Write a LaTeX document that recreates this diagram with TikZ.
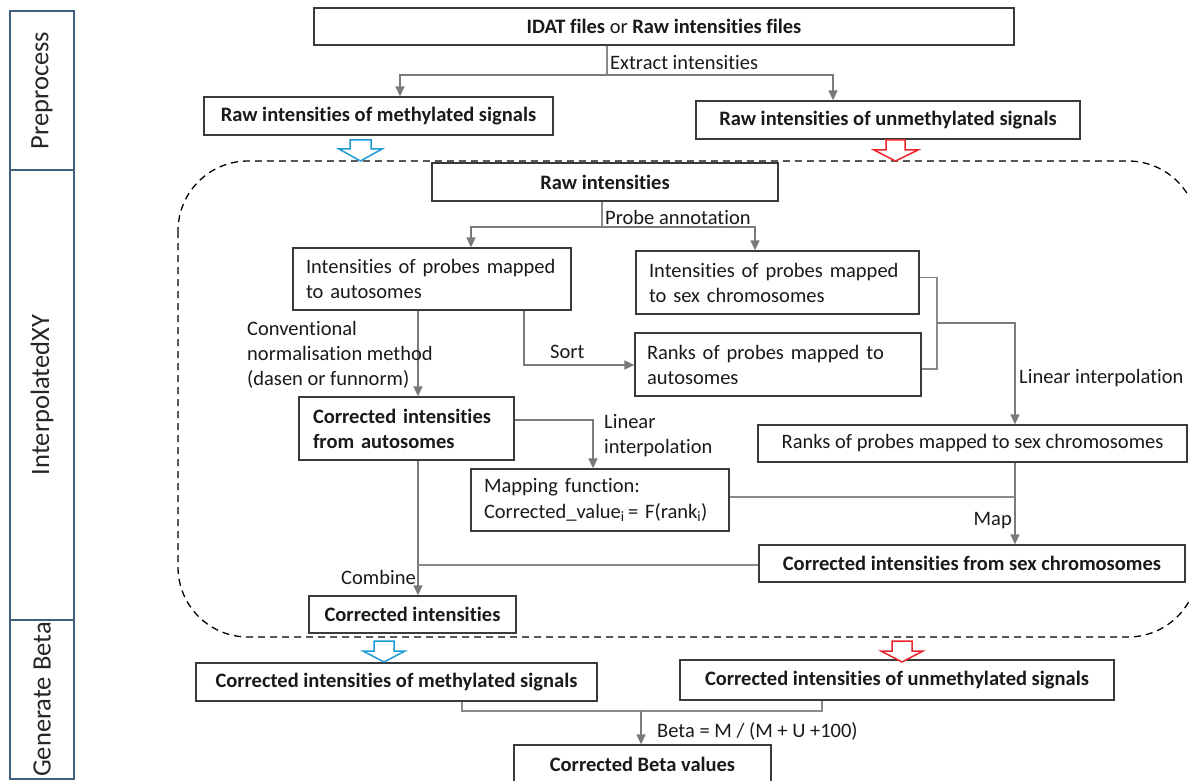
\documentclass[tikz,border=0pt]{standalone}
\usepackage{fontspec}
\setmainfont{Carlito}[Ligatures=NoCommon]
\usetikzlibrary{arrows.meta}
\definecolor{boxc}{HTML}{3A3A3A}
\definecolor{lanec}{HTML}{41607F}
\definecolor{linec}{HTML}{8A8A8A}
\definecolor{arrc}{HTML}{7A7A7A}
\definecolor{hblue}{HTML}{1E9BD7}
\definecolor{hred}{HTML}{E8262A}
\definecolor{txtc}{HTML}{1A1A1A}
\begin{document}
\begin{tikzpicture}[x=1pt,y=-1pt,
  every node/.style={text=txtc},
  box/.style={draw=boxc, line width=1.3pt, inner sep=0pt, font=\fontsize{20.5}{25}\selectfont, align=center},
  bbox/.style={box, font=\fontsize{20.5}{25}\selectfont\bfseries},
  lbl/.style={inner sep=0pt, font=\fontsize{20.5}{25}\selectfont, align=left},
  lane/.style={draw=lanec, line width=1.8pt, inner sep=0pt},
  lanetxt/.style={rotate=90, font=\fontsize{26.5}{30}\selectfont, text=black!85},
  ln/.style={draw=linec, line width=1.4pt},
  arr/.style={draw=arrc, line width=1.4pt, -{Triangle[length=10pt,width=9pt]}},
  hollow/.style={line width=1.5pt, fill=white, line join=miter}
]
\useasboundingbox (0,0) rectangle (1189,781);
\fill[white] (0,0) rectangle (1189,781);

% lanes
\node[lane, minimum width=64pt, minimum height=159pt] (lp) at (42,90.5) {};
\node[lanetxt] (lpt) at (lp.center) {Preprocess};
\node[lane, minimum width=64pt, minimum height=450pt] (li) at (42,395) {};
\node[lanetxt] (lit) at (li.center) {InterpolatedXY};
\node[lane, minimum width=64pt, minimum height=159pt] (lg) at (42,699.5) {};
\node[lanetxt] (lgt) at (lg.center) {Generate Beta};

% dashed region
\draw[black, line width=1.3pt, dash pattern=on 7pt off 5pt, rounded corners=70pt] (178,161) rectangle (1198,637);

% boxes
\node[box, minimum width=700pt, minimum height=37pt] (top) at (664,26.5) {\textbf{IDAT files} or \textbf{Raw intensities files}};
\node[bbox, minimum width=349pt, minimum height=38pt] (Mraw) at (378.5,116) {Raw intensities of methylated signals};
\node[bbox, minimum width=384pt, minimum height=38pt] (Uraw) at (888,120) {Raw intensities of unmethylated signals};
\node[bbox, minimum width=346pt, minimum height=38pt, fill=white] (raw) at (605,182) {Raw intensities};
\node[box, minimum width=278pt, minimum height=62pt, text width=252pt, align=left] (A) at (432,279) {Intensities of probes mapped\\to autosomes};
\node[box, minimum width=283pt, minimum height=63pt, text width=257pt, align=left] (S) at (777.5,282.5) {Intensities of probes mapped\\to sex chromosomes};
\node[box, minimum width=286pt, minimum height=63pt, text width=262pt, align=left] (R) at (778,364.5) {Ranks of probes mapped to\\autosomes};
\node[bbox, minimum width=215pt, minimum height=63pt, text width=187pt, align=left] (CA) at (406.5,428.5) {Corrected intensities\\from autosomes};
\node[box, minimum width=258pt, minimum height=62pt, text width=232pt, align=left] (MF) at (600,500) {Mapping function:\\Corrected\_value\textsubscript{i}\,= F(rank\textsubscript{i})};
\node[box, minimum width=429pt, minimum height=37pt] (RS) at (972.5,443.5) {Ranks of probes mapped to sex chromosomes};
\node[bbox, minimum width=426pt, minimum height=37pt] (CS) at (972,563.5) {Corrected intensities from sex chromosomes};
\node[bbox, minimum width=207pt, minimum height=37pt, fill=white] (CI) at (412.5,614.5) {Corrected intensities};
\node[bbox, minimum width=401pt, minimum height=38pt] (CM) at (396.5,682) {Corrected intensities of methylated signals};
\node[bbox, minimum width=434pt, minimum height=40pt] (CU) at (897,680) {Corrected intensities of unmethylated signals};
\node[bbox, minimum width=257pt, minimum height=38pt] (CB) at (642.5,764) {Corrected Beta values};

% hollow arrows
\draw[hollow, draw=hblue] (350,140) -- (371,140) -- (371,149) -- (382,149) -- (360.5,161) -- (339,149) -- (350,149) -- cycle;
\draw[hollow, draw=hred] (886,140) -- (905,140) -- (905,150) -- (918,150) -- (895.5,161) -- (874,150) -- (886,150) -- cycle;
\draw[hollow, draw=hblue] (374,641) -- (394,641) -- (394,651) -- (405,651) -- (384,662) -- (363,651) -- (374,651) -- cycle;
\draw[hollow, draw=hred] (892,641) -- (912,641) -- (912,651) -- (923,651) -- (902,662) -- (881,651) -- (892,651) -- cycle;

% coordinates
\coordinate (e0) at (607,75);
\coordinate (eL) at (400,75);
\coordinate (eR) at (833,75);
\coordinate (p0) at (602,227);
\coordinate (pL) at (471,227);
\coordinate (pR) at (755,227);
\coordinate (bm) at (937,323);
\coordinate (lx) at (1015,323);
\coordinate (cv) at (418,310);
\coordinate (so) at (524,365);
\coordinate (l2) at (593,420);
\coordinate (mj) at (1015,497);
\coordinate (cj) at (418,565);
\coordinate (bl) at (462,711);
\coordinate (br) at (822,711);
\coordinate (bc) at (641,711);

% connectors
\draw[ln] (top.south -| e0) -- (e0);
\draw[arr] (e0) -| (Mraw.north -| eL);
\draw[arr] (e0) -| (Uraw.north -| eR);
\node[lbl, anchor=west] (lext) at (610,63) {Extract intensities};

\draw[ln] (raw.south -| p0) -- (p0);
\draw[arr] (p0) -| (A.north -| pL);
\draw[arr] (p0) -| (S.north -| pR);
\node[lbl, anchor=west] (lprobe) at (605,217) {Probe annotation};

\draw[ln] ([yshift=5pt]S.east) -| (bm) |- ([yshift=-4.5pt]R.east);
\draw[arr] (bm) -- (lx) -- (RS.north -| lx);
\node[lbl, anchor=west] (llin) at (1019,378) {Linear interpolation};

\draw[arr] (A.south -| cv) -- (CA.north -| cv);
\node[lbl, anchor=west] (lconv) at (247,355) {Conventional\\normalisation method\\(dasen or funnorm)};

\draw[arr] (A.south -| so) -- (so) -- (R.west |- so);
\node[lbl, anchor=west] (lsort) at (550,352) {Sort};

\draw[arr] (CA.east |- l2) -- (l2) -- (MF.north -| l2);
\node[lbl, anchor=west] (llin2) at (604,436) {Linear\\interpolation};

\draw[arr] (RS.south -| mj) -- (CS.north -| mj);
\draw[ln] (MF.east |- mj) -- (mj);
\node[lbl, anchor=east] (lmap) at (1012,521) {Map};

\draw[arr] (CA.south -| cv) -- (CI.north -| cv);
\draw[ln] (CS.west |- cj) -- (cj);
\node[lbl, anchor=east] (lcomb) at (416,577) {Combine};

\draw[ln] (CM.south -| bl) -- (bl) -- (br) -- (CU.south -| br);
\draw[arr] (bc) -- (CB.north -| bc);
\node[lbl, anchor=west] (lbeta) at (657,731) {Beta = M / (M + U +100)};
\end{tikzpicture}
\end{document}
